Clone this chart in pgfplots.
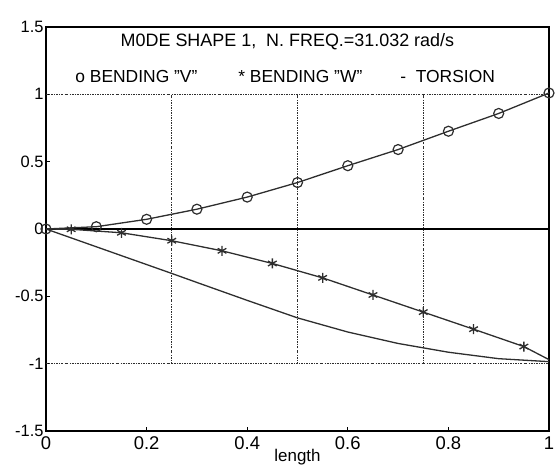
\documentclass[border=0pt]{standalone}
\usepackage{pgfplots}
\pgfplotsset{compat=1.18}
\usepackage{fontspec}
\setmainfont{Liberation Sans}
\definecolor{ln}{HTML}{2E2E2E}
\begin{document}
\begin{tikzpicture}
\begin{axis}[name=ax, scale only axis, width=503bp, height=404bp,
  xmin=0, xmax=1, ymin=-1.5, ymax=1.5,
  xtick={0,0.2,0.4,0.6,0.8,1}, xticklabels={0,0.2,0.4,0.6,0.8,1},
  ytick={-1.5,-1,-0.5,0,0.5,1,1.5}, yticklabels={-1.5,-1,-0.5,0,0.5,1,1.5},
  tick align=inside, xtick pos=bottom, ytick pos=left, major tick length=4bp,
  tick style={black, line width=0.9bp},
  axis line style={black, line width=1.2bp},
  x tick label style={font=\fontsize{18.5}{18.5}\selectfont, yshift=-2bp},
  y tick label style={font=\fontsize{16.5}{16.5}\selectfont, xshift=1bp},
  xlabel={length},
  xlabel style={font=\fontsize{17}{17}\selectfont, at={(axis description cs:0.5,0)}, anchor=north, yshift=-15bp},
  clip=false,
  refline/.style={ln, line width=1bp, dash pattern=on 2bp off 1.2bp on 0.7bp off 1.2bp},
]
% reference lines
\addplot[refline, forget plot] coordinates {(0,1) (1,1)};
\addplot[refline, forget plot] coordinates {(0,-1) (1,-1)};
\addplot[refline, forget plot] coordinates {(0.25,-1) (0.25,1)};
\addplot[refline, forget plot] coordinates {(0.5,-1) (0.5,1)};
\addplot[refline, forget plot] coordinates {(0.75,-1) (0.75,1)};
\addplot[black, line width=1.3bp, forget plot] coordinates {(0,0) (1,0)};
% torsion
\addplot[ln, line width=1.3bp] coordinates {
 (0,0) (0.1,-0.132) (0.2,-0.264) (0.25,-0.33) (0.3,-0.397) (0.4,-0.53) (0.5,-0.66)
 (0.6,-0.765) (0.7,-0.85) (0.8,-0.915) (0.9,-0.963) (1,-0.985)};
% bending W
\addplot[ln, line width=1.3bp, mark=asterisk, mark size=5bp, mark indices={2,3,4,5,6,7,8,9,10,11},
  mark options={line width=1.3bp}] coordinates {
 (0,0) (0.05,-0.002) (0.15,-0.028) (0.25,-0.087) (0.35,-0.162) (0.45,-0.256) (0.55,-0.363)
 (0.65,-0.49) (0.75,-0.617) (0.85,-0.744) (0.95,-0.873) (1,-0.97)};
% bending V
\addplot[ln, line width=1.3bp, mark=o, mark size=5bp, mark options={line width=1.2bp}] coordinates {
 (0,0) (0.1,0.017) (0.2,0.072) (0.3,0.147) (0.4,0.237) (0.5,0.345) (0.6,0.47) (0.7,0.59)
 (0.8,0.726) (0.9,0.858) (1,1.01)};
% title and legend text
\node[font=\fontsize{18}{18}\selectfont, text=black] at (axis cs:0.48,1.394) {M0DE SHAPE 1,\ \ N. FREQ.=31.032 rad/s};
\node[anchor=west, font=\fontsize{17.5}{17.5}\selectfont, inner sep=0pt] at (axis cs:0.058,1.13) {o BENDING "V"};
\node[anchor=west, font=\fontsize{17.5}{17.5}\selectfont, inner sep=0pt] at (axis cs:0.382,1.13) {* BENDING "W"};
\node[anchor=west, font=\fontsize{17.5}{17.5}\selectfont, inner sep=0pt] at (axis cs:0.704,1.13) {-\ \ TORSION};
\end{axis}
\pgfresetboundingbox
\path ([shift={(-46bp,-34bp)}]ax.south west) rectangle ([shift={(11bp,27bp)}]ax.north east);
\end{tikzpicture}
\end{document}
